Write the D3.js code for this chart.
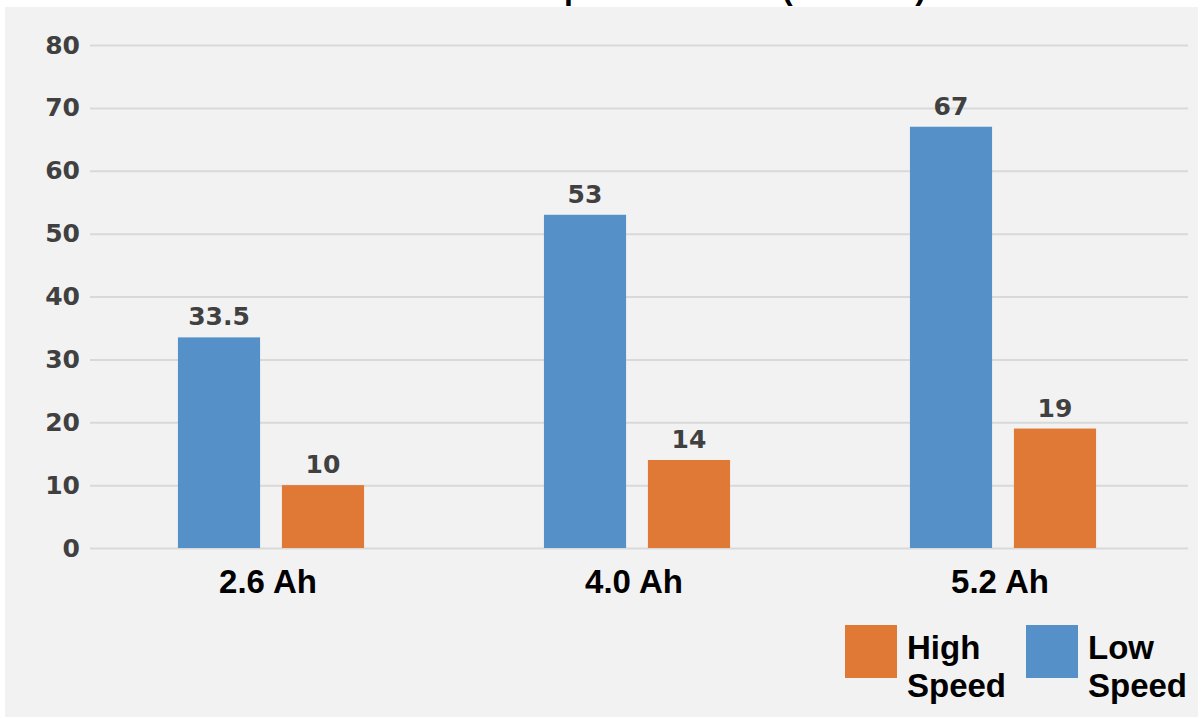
<!DOCTYPE html>
<html>
<head>
<meta charset="utf-8">
<script src="https://cdn.jsdelivr.net/npm/d3@7"></script>
<style>
  body { margin: 0; background: #fff; }
  .tick-label { font-family: "DejaVu Sans", sans-serif; font-weight: bold; fill: #404040; }
  .bar-label { font-family: "DejaVu Sans", sans-serif; font-weight: bold; fill: #404040; }
  .cat-label, .legend-label, .title { font-family: "Liberation Sans", Arial, sans-serif; font-weight: bold; fill: #000; }
</style>
</head>
<body>
<svg id="chart"></svg>
<script>
// Chart data
const categories = ['2.6 Ah', '4.0 Ah', '5.2 Ah'];
const seriesNames = ['Low Speed', 'High Speed'];
const lowSpeed = [33.5, 53, 67];
const highSpeed = [10, 14, 19];
const yTicks = [0, 10, 20, 30, 40, 50, 60, 70, 80];
const titleText = 'Total Operation Time (minutes)';

const colors = {'Low Speed': '#5591c8', 'High Speed': '#e07935'};

const width = 1203, height = 718;
const margin = {top: 45, right: 17, bottom: 170, left: 88};

const svg = d3.select('#chart')
    .attr('width', width)
    .attr('height', height);

// gray panel
svg.append('rect')
    .attr('x', 5).attr('y', 7)
    .attr('width', 1193).attr('height', 710)
    .attr('fill', '#f2f2f2');

// title, mostly cropped at the top edge
svg.append('text')
    .attr('class', 'title')
    .attr('x', 926)
    .attr('y', -1)
    .attr('text-anchor', 'end')
    .style('font-size', '32px')
    .text(titleText);

const innerH = height - margin.top - margin.bottom;

const xScale = d3.scaleBand()
    .domain(categories)
    .range([margin.left, width - margin.right])
    .padding(0);

const xSub = d3.scaleBand()
    .domain(seriesNames)
    .range([0, xScale.bandwidth()])
    .paddingInner(0.21)
    .paddingOuter(0.865);

const yScale = d3.scaleLinear()
    .domain([0, 80])
    .range([margin.top + innerH, margin.top]);

// gridlines + y labels
const yAxis = d3.axisLeft(yScale)
    .tickValues(yTicks)
    .tickSize(-(width - margin.right - margin.left))
    .tickPadding(9);

const yAxisG = svg.append('g')
    .attr('transform', `translate(${margin.left + 2},0)`)
    .call(yAxis)
    .call(g => g.select('.domain').remove());

yAxisG.selectAll('.tick line')
    .attr('stroke', '#d9d9d9')
    .attr('stroke-width', 2);

yAxisG.selectAll('.tick text')
    .attr('class', 'tick-label')
    .attr('x', -10)
    .style('font-size', '25px');

// bars
const rows = categories.map((c, i) => ({cat: c, values: [
  {name: 'Low Speed', value: lowSpeed[i]},
  {name: 'High Speed', value: highSpeed[i]}
]}));

const groups = svg.selectAll('.group')
    .data(rows)
    .enter()
  .append('g')
    .attr('class', 'group')
    .attr('transform', d => `translate(${xScale(d.cat)},0)`);

groups.selectAll('rect')
    .data(d => d.values)
    .enter()
  .append('rect')
    .attr('x', d => xSub(d.name))
    .attr('y', d => yScale(d.value))
    .attr('width', xSub.bandwidth())
    .attr('height', d => yScale(0) - yScale(d.value))
    .attr('fill', d => colors[d.name]);

groups.selectAll('.bar-label')
    .data(d => d.values)
    .enter()
  .append('text')
    .attr('class', 'bar-label')
    .attr('x', d => xSub(d.name) + xSub.bandwidth() / 2)
    .attr('y', d => yScale(d.value) - 12)
    .attr('text-anchor', 'middle')
    .style('font-size', '25px')
    .text(d => d.value);

// category labels
svg.selectAll('.cat-label')
    .data(categories)
    .enter()
  .append('text')
    .attr('class', 'cat-label')
    .attr('x', d => xScale(d) + xScale.bandwidth() / 2 - 3)
    .attr('y', 593)
    .attr('text-anchor', 'middle')
    .style('font-size', '33px')
    .text(d => d);

// legend
const legendItems = [
  {name: 'High Speed', x: 845},
  {name: 'Low Speed', x: 1026}
];

const legend = svg.selectAll('.legend')
    .data(legendItems)
    .enter()
  .append('g')
    .attr('class', 'legend')
    .attr('transform', d => `translate(${d.x},625)`);

legend.append('rect')
    .attr('width', 52)
    .attr('height', 53)
    .attr('fill', d => colors[d.name]);

legend.append('text')
    .attr('class', 'legend-label')
    .attr('x', 62)
    .attr('y', 34)
    .style('font-size', '33px')
    .selectAll('tspan')
    .data(d => d.name.split(' '))
    .enter()
  .append('tspan')
    .attr('x', 62)
    .attr('dy', (d, i) => i === 0 ? 0 : 38)
    .text(d => d);
</script>
</body>
</html>
